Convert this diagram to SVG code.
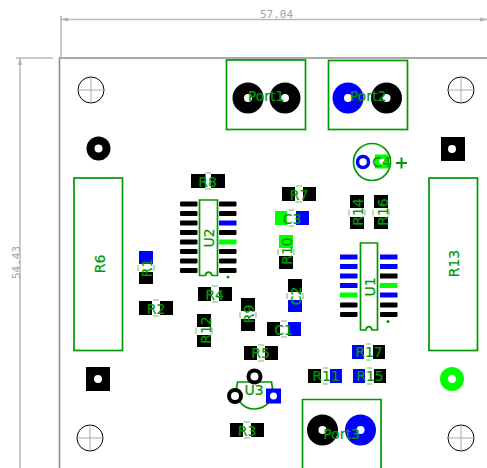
<svg xmlns="http://www.w3.org/2000/svg" width="487" height="468" viewBox="0 0 487 468">
<defs>
<style>
.dim{stroke:#b8b8b8;stroke-width:1.5;fill:none}
.dimt{font-family:"DejaVu Sans Mono",monospace;font-size:11px;fill:#a0a0a0}
.silk{stroke:#009900;stroke-width:1.7;fill:none}
.gap{stroke:#009900;stroke-opacity:.6;stroke-width:1;fill:none;stroke-dasharray:6 16}
.gap5{stroke:#009900;stroke-opacity:.6;stroke-width:1;fill:none;stroke-dasharray:5 16}
.gapv{stroke:#009900;stroke-opacity:.6;stroke-width:1;fill:none;stroke-dasharray:0 16 6 16 6 0}
.lab{font-family:"DejaVu Sans",sans-serif;font-size:14px;fill:#009900;stroke:#009900;stroke-width:.2;text-anchor:middle;dominant-baseline:central}
.k{fill:#000}.b{fill:#0000ff}.g{fill:#00ff00}
.hole{fill:#fff}
.mnt{stroke:#000;stroke-width:1;fill:none}
.mntx{stroke:#aaa;stroke-width:1;fill:none}
</style>
<g id="mh"><circle r="13" class="mnt"/><path d="M-13 0H13M0-13V13" class="mntx"/></g>
</defs>
<rect width="487" height="468" fill="#fff"/>
<g id="connectors">
<path d="M59.5 468V58H487" fill="none" stroke="#8c8c8c" stroke-width="1.5"/>
<path d="M61 16V58M61 19.500H487M16 58H53M20 58V468" class="dim"/>
<path d="M61 19.500l7-2v4zM487 19.500l-7-2v4zM20 58l-2 7h4z" fill="#b0b0b0"/>
<text class="dimt" x="260" y="18">57.04</text>
<text class="dimt" transform="translate(19.500 279) rotate(-90)">54.43</text>
</g>
<use href="#mh" x="91" y="90"/><use href="#mh" x="461" y="90"/><use href="#mh" x="90" y="438"/><use href="#mh" x="461" y="438"/>
<g id="P1"><circle cx="98.500" cy="148.500" r="12" class="k"/><circle cx="98.500" cy="148.500" r="4" class="hole"/></g>
<g id="P2"><rect x="441" y="137" width="24" height="24" class="k"/><circle cx="452" cy="149" r="4" class="hole"/></g>
<g id="P3"><rect x="86" y="367" width="24" height="24" class="k"/><circle cx="98" cy="379" r="4" class="hole"/></g>
<g id="P4"><circle cx="452" cy="379" r="12" class="g"/><circle cx="452" cy="379" r="4" class="hole"/></g>
<g id="Port1"><rect x="226.500" y="60" width="79" height="69.500" class="silk"/><circle cx="248" cy="98" r="15.500" class="k"/><circle cx="248" cy="98" r="4" class="hole"/><circle cx="285" cy="98" r="15.500" class="k"/><circle cx="285" cy="98" r="4" class="hole"/><text class="lab" x="266" y="95.500">Port1</text></g>
<g id="Port2"><rect x="328.500" y="60.500" width="79" height="69" class="silk"/><circle cx="348" cy="98" r="15.500" class="b"/><circle cx="348" cy="98" r="4" class="hole"/><circle cx="386.500" cy="98" r="15.500" class="k"/><circle cx="386.500" cy="98" r="4" class="hole"/><text class="lab" x="368" y="95.500">Port2</text></g>
<g id="Port3"><path d="M302.500 468V399.500H381V468" class="silk"/><circle cx="322.500" cy="430" r="15.500" class="k"/><circle cx="322.500" cy="430" r="4" class="hole"/><circle cx="360.500" cy="430" r="15.500" class="b"/><circle cx="360.500" cy="430" r="4" class="hole"/><text class="lab" x="341.500" y="434">Port3</text></g>
<g id="C4"><circle cx="372" cy="162" r="18.500" class="silk"/><circle cx="363" cy="162" r="5.500" fill="#fff" stroke="#0000ff" stroke-width="3.500"/><rect x="375" y="154.500" width="14" height="14" class="g"/><circle cx="382" cy="161.500" r="3" class="hole"/><text class="lab" x="381.500" y="162">C4</text><path d="M396 163H407M401.500 157.500V168.500" fill="none" stroke="#009900" stroke-width="2"/></g>
<g id="R6"><rect x="74" y="178" width="48.500" height="172.500" class="silk"/><text class="lab" transform="translate(100 264) rotate(-90)">R6</text></g>
<g id="R13"><rect x="429" y="178" width="48.500" height="172.500" class="silk"/><text class="lab" transform="translate(453.500 263.500) rotate(-90)">R13</text></g>
<g id="R8"><rect x="191" y="174" width="14.500" height="14" class="k"/><rect x="211" y="174" width="14" height="14" class="k"/><rect x="205" y="173" width="6" height="16" class="gap"/><text class="lab" x="207.500" y="182">R8</text></g>
<g id="R7"><rect x="282" y="187" width="13" height="14" class="k"/><rect x="303" y="187" width="13" height="14" class="k"/><rect x="296" y="186" width="6" height="16" class="gap"/><text class="lab" x="299" y="195">R7</text></g>
<g id="C3"><rect x="275" y="211" width="12" height="14" class="g"/><rect x="296" y="211" width="13" height="14" class="b"/><rect x="288.500" y="210" width="6" height="16" class="gap"/><text class="lab" x="292" y="219">C3</text></g>
<g id="R14"><rect x="350" y="195" width="14" height="13" class="k"/><rect x="350" y="217" width="14" height="12" class="k"/><rect x="349" y="209.500" width="16" height="6" class="gapv"/><text class="lab" transform="translate(358 212) rotate(-90)">R14</text></g>
<g id="R16"><rect x="374" y="195" width="14" height="13" class="k"/><rect x="374" y="217" width="14" height="12" class="k"/><rect x="373" y="209.500" width="16" height="6" class="gapv"/><text class="lab" transform="translate(382.500 212) rotate(-90)">R16</text></g>
<g id="R10"><rect x="279" y="235" width="14" height="13" class="g"/><rect x="279" y="256" width="14" height="13" class="k"/><rect x="278" y="249" width="16" height="6" class="gapv"/><text class="lab" transform="translate(287 251) rotate(-90)">R10</text></g>
<g id="C2"><rect x="288" y="279" width="14" height="13" class="k"/><rect x="288" y="300" width="14" height="12" class="b"/><rect x="287" y="293" width="16" height="6" class="gapv"/><text class="lab" transform="translate(296 296) rotate(-90)">C2</text></g>
<g id="C1"><rect x="267" y="322" width="13" height="14" class="k"/><rect x="288" y="322" width="13" height="14" class="b"/><rect x="281" y="321" width="6" height="16" class="gap"/><text class="lab" x="283.500" y="329.500">C1</text></g>
<g id="R1"><rect x="139" y="251" width="14" height="13" class="b"/><rect x="139" y="272" width="14" height="12" class="k"/><rect x="138" y="265" width="16" height="6" class="gapv"/><text class="lab" transform="translate(147 268) rotate(-90)">R1</text></g>
<g id="R2"><rect x="139" y="301" width="13" height="14" class="k"/><rect x="160" y="301" width="13" height="14" class="k"/><rect x="153" y="300" width="6" height="16" class="gap"/><text class="lab" x="156" y="308.500">R2</text></g>
<g id="R4"><rect x="198" y="287" width="13" height="14" class="k"/><rect x="219" y="287" width="13" height="14" class="k"/><rect x="212" y="286" width="6" height="16" class="gap"/><text class="lab" x="214.500" y="294.500">R4</text></g>
<g id="R9"><rect x="241" y="298" width="14" height="13" class="k"/><rect x="241" y="319" width="14" height="12" class="k"/><rect x="240" y="312" width="16" height="6" class="gapv"/><text class="lab" transform="translate(248.500 314) rotate(-90)">R9</text></g>
<g id="R12"><rect x="197" y="314" width="14" height="13" class="k"/><rect x="197" y="335" width="14" height="12" class="k"/><rect x="196" y="328" width="16" height="6" class="gapv"/><text class="lab" transform="translate(205.500 330) rotate(-90)">R12</text></g>
<g id="R5"><rect x="244" y="346" width="13" height="14" class="k"/><rect x="265" y="346" width="13" height="14" class="k"/><rect x="258" y="345" width="6" height="16" class="gap"/><text class="lab" x="260.500" y="353">R5</text></g>
<g id="R17"><rect x="352" y="345" width="12" height="14" class="b"/><rect x="373" y="345" width="12" height="14" class="k"/><rect x="366" y="344" width="5" height="16" class="gap5"/><text class="lab" x="369" y="352">R17</text></g>
<g id="R11"><rect x="308" y="369" width="13" height="14" class="k"/><rect x="330" y="369" width="12" height="14" class="b"/><rect x="323" y="368" width="5" height="16" class="gap5"/><text class="lab" x="326" y="376">R11</text></g>
<g id="R15"><rect x="353" y="369" width="12" height="14" class="b"/><rect x="374" y="369" width="12" height="14" class="k"/><rect x="367" y="368" width="5" height="16" class="gap5"/><text class="lab" x="370" y="376">R15</text></g>
<g id="R3"><rect x="230" y="423" width="13" height="14" class="k"/><rect x="251" y="423" width="13" height="14" class="k"/><rect x="244" y="422" width="6" height="16" class="gap"/><text class="lab" x="247" y="430.500">R3</text></g>
<g id="U3"><path d="M236 391L237.500 382H271.500L273 391M240 402C247 411.500 262 411.500 270 401" class="silk"/><circle cx="235" cy="396" r="6" fill="#fff" stroke="#000" stroke-width="4"/><circle cx="254.500" cy="376.500" r="6" fill="#fff" stroke="#000" stroke-width="4"/><rect x="266" y="388.500" width="15" height="15" class="b"/><circle cx="273.500" cy="396" r="3.500" class="hole"/><text class="lab" x="254" y="390">U3</text></g>
<g id="U2">
<path d="M199.500 200H217.500V275.500H212C211 271 206 271 205.500 275.500H199.500Z" class="silk"/>
<g class="k"><rect x="180" y="201.500" width="17.500" height="5" rx="1"/><rect x="180" y="211" width="17.500" height="5" rx="1"/><rect x="180" y="220.500" width="17.500" height="5" rx="1"/><rect x="180" y="230" width="17.500" height="5" rx="1"/><rect x="180" y="239.500" width="17.500" height="5" rx="1"/><rect x="180" y="249" width="17.500" height="5" rx="1"/><rect x="180" y="258.500" width="17.500" height="5" rx="1"/><rect x="180" y="268" width="17.500" height="5" rx="1"/><rect x="219" y="201.500" width="17.500" height="5" rx="1"/><rect x="219" y="211" width="17.500" height="5" rx="1"/><rect x="219" y="230" width="17.500" height="5" rx="1"/><rect x="219" y="249" width="17.500" height="5" rx="1"/><rect x="219" y="258.500" width="17.500" height="5" rx="1"/><rect x="219" y="268" width="17.500" height="5" rx="1"/></g>
<rect x="219" y="220.500" width="17.500" height="5" class="b"/><rect x="219" y="239.500" width="17.500" height="5" class="g"/>
<circle cx="228" cy="277" r="1.500" fill="#009900"/>
<text class="lab" transform="translate(209 238) rotate(-90)">U2</text></g>
<g id="U1">
<path d="M360.500 243H377.500V330H372C371 325.500 366.500 325.500 366 330H360.500Z" class="silk"/>
<g class="b"><rect x="340" y="254.500" width="17.500" height="5"/><rect x="340" y="264" width="17.500" height="5"/><rect x="340" y="273.500" width="17.500" height="5"/><rect x="340" y="283" width="17.500" height="5"/><rect x="380" y="254.500" width="17.500" height="5"/><rect x="380" y="264" width="17.500" height="5"/><rect x="380" y="292.500" width="17.500" height="5"/></g>
<g class="k"><rect x="340" y="302.500" width="17.500" height="5" rx="1"/><rect x="340" y="312" width="17.500" height="5" rx="1"/><rect x="380" y="273.500" width="17.500" height="5"/><rect x="380" y="302.500" width="17.500" height="5" rx="1"/><rect x="380" y="312" width="17.500" height="5" rx="1"/></g>
<rect x="340" y="292.500" width="17.500" height="5" class="g"/><rect x="380" y="283" width="17.500" height="5" class="g"/>
<circle cx="388" cy="321.500" r="1.500" fill="#009900"/>
<text class="lab" transform="translate(369.500 287) rotate(-90)">U1</text></g>
</svg>
